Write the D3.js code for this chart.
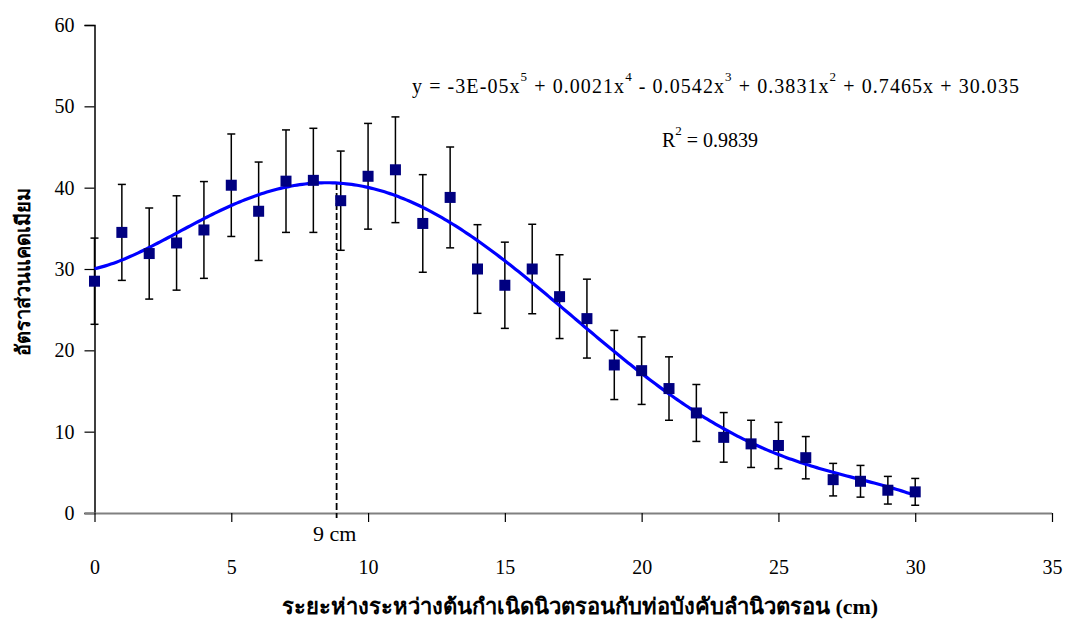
<!DOCTYPE html>
<html>
<head>
<meta charset="utf-8">
<script src="https://cdn.jsdelivr.net/npm/d3@7"></script>
<style>
  body { margin: 0; background: #fff; }
  svg text { font-family: "Liberation Serif", "Times New Roman", Times, "DejaVu Serif", serif !important; fill: #000; }
</style>
</head>
<body>
<svg id="chart" width="1067" height="619"></svg>
<script>
// distance from nitrogen source (cm)
const distance = [0, 1, 2, 3, 4, 5, 6, 7, 8, 9, 10, 11, 12, 13, 14, 15,
  16, 17, 18, 19, 20, 21, 22, 23, 24, 25, 26, 27, 28, 29, 30];
// cadmium ratio, mean
const ratio = [28.5, 34.5, 31.9, 33.2, 34.8, 40.3, 37.1, 40.8, 40.9, 38.4, 41.4,
  42.2, 35.6, 38.8, 30.0, 28.0, 30.0, 26.6, 23.9, 18.2, 17.5, 15.3, 12.3, 9.3,
  8.5, 8.3, 6.8, 4.1, 3.9, 2.8, 2.6];
// error bar half-length
const spread = [5.3, 5.9, 5.6, 5.8, 5.95, 6.3, 6.05, 6.3, 6.4, 6.1, 6.5, 6.5,
  6.0, 6.2, 5.45, 5.3, 5.5, 5.15, 4.85, 4.25, 4.15, 3.9, 3.5, 3.05, 2.9, 2.85,
  2.6, 2.0, 1.95, 1.7, 1.65];
const xTicks = [0, 5, 10, 15, 20, 25, 30, 35];
const yTicks = [0, 10, 20, 30, 40, 50, 60];
const peakX = 8.85;   // dashed marker "9 cm"

const svg = d3.select('#chart');
const x = d3.scaleLinear().domain([0, 35]).range([94.5, 1052]);
const y = d3.scaleLinear().domain([0, 60]).range([513, 25]);

// --- 5th order polynomial trendline (least squares on the points) ---
function polyfit(xs, ys, deg) {
  const n = deg + 1, s = 30;
  const A = Array.from({ length: n }, () => new Array(n + 1).fill(0));
  xs.forEach((xv, k) => {
    const t = xv / s;
    for (let i = 0; i < n; i++) {
      for (let j = 0; j < n; j++) A[i][j] += Math.pow(t, i + j);
      A[i][n] += ys[k] * Math.pow(t, i);
    }
  });
  for (let c = 0; c < n; c++) {
    let p = c;
    for (let r = c + 1; r < n; r++) if (Math.abs(A[r][c]) > Math.abs(A[p][c])) p = r;
    [A[c], A[p]] = [A[p], A[c]];
    for (let r = 0; r < n; r++) {
      if (r === c) continue;
      const f = A[r][c] / A[c][c];
      for (let k = c; k <= n; k++) A[r][k] -= f * A[c][k];
    }
  }
  const coef = A.map((row, i) => row[n] / row[i]);
  return xv => coef.reduce((acc, cf, i) => acc + cf * Math.pow(xv / s, i), 0);
}
const trend = polyfit(distance, ratio, 5);

// axes
const yAxis = svg.append('g').attr('transform', `translate(${x(0)},0)`)
  .call(d3.axisLeft(y).tickValues(yTicks).tickSize(10).tickPadding(10));
yAxis.attr('font-family', null);
yAxis.select('.domain').attr('stroke', '#000').attr('stroke-width', 1.5);
yAxis.selectAll('.tick line').attr('stroke', '#000').attr('stroke-width', 1.2);
yAxis.selectAll('.tick text').attr('font-size', 20).attr('fill', '#000');

const xAxis = svg.append('g').attr('transform', `translate(0,${y(0)})`)
  .call(d3.axisBottom(x).tickValues(xTicks).tickSize(9).tickSizeOuter(0).tickPadding(38));
xAxis.attr('font-family', null);
xAxis.select('.domain').attr('stroke', '#808080').attr('stroke-width', 2)
  .attr('d', `M${x(0) - 10},0.5H${x(35)}`);
xAxis.selectAll('.tick line').attr('stroke', '#000').attr('stroke-width', 1.2);
xAxis.selectAll('.tick text').attr('font-size', 20).attr('fill', '#000');

// dashed peak marker
svg.append('line')
  .attr('x1', x(peakX)).attr('x2', x(peakX))
  .attr('y1', y(trend(peakX))).attr('y2', y(0) + 5)
  .attr('stroke', '#000').attr('stroke-width', 1.8)
  .attr('stroke-dasharray', '7,3');
svg.append('text').attr('x', x(peakX) - 2).attr('y', 541)
  .attr('text-anchor', 'middle').attr('font-size', 22).text('9 cm');

// error bars
const rows = distance.map((d, i) => ({ d, v: ratio[i], e: spread[i] }));
const bars = svg.append('g').attr('stroke', '#000').attr('stroke-width', 1.5);
rows.forEach(r => {
  bars.append('line').attr('x1', x(r.d)).attr('x2', x(r.d))
    .attr('y1', y(r.v - r.e)).attr('y2', y(r.v + r.e));
  [r.v - r.e, r.v + r.e].forEach(v => {
    bars.append('line').attr('x1', x(r.d) - 4).attr('x2', x(r.d) + 4)
      .attr('y1', y(v)).attr('y2', y(v));
  });
});

// trend curve
const curveX = d3.range(0, 30.01, 0.1);
svg.append('path')
  .attr('d', d3.line().x(d => x(d)).y(d => y(trend(d)))(curveX))
  .attr('fill', 'none').attr('stroke', '#0000ff').attr('stroke-width', 3.2);

// markers
const ms = 11;
svg.append('g').selectAll('rect').data(rows).join('rect')
  .attr('x', r => x(r.d) - ms / 2).attr('y', r => y(r.v) - ms / 2)
  .attr('width', ms).attr('height', ms).attr('fill', '#000080');

// equation + R^2
const eq = svg.append('text').attr('x', 412).attr('y', 93).attr('font-size', 20)
  .attr('textLength', 607).attr('lengthAdjust', 'spacing');
const parts = [['y = -3E-05x', '5'], [' + 0.0021x', '4'], [' - 0.0542x', '3'],
  [' + 0.3831x', '2'], [' + 0.7465x + 30.035', null]];
parts.forEach(([base, sup], i) => {
  eq.append('tspan').attr('dy', i === 0 ? 0 : 12).text(base);
  if (sup) eq.append('tspan').attr('dy', -12).attr('font-size', 13).text(sup);
});
const r2 = svg.append('text').attr('x', 662).attr('y', 147).attr('font-size', 20);
r2.append('tspan').text('R');
r2.append('tspan').attr('dy', -12).attr('font-size', 13).text('2');
r2.append('tspan').attr('dy', 12).text(' = 0.9839');

// axis titles
svg.append('text').attr('x', 580).attr('y', 614).attr('text-anchor', 'middle')
  .attr('font-size', 22).attr('font-weight', 'bold')
  .text('ระยะห่างระหว่างต้นกำเนิดนิวตรอนกับท่อบังคับลำนิวตรอน (cm)');
svg.append('text').attr('transform', 'translate(30,272) rotate(-90)')
  .attr('text-anchor', 'middle').attr('font-size', 20).attr('font-weight', 'bold')
  .text('อัตราส่วนแคดเมียม');
</script>
</body>
</html>
